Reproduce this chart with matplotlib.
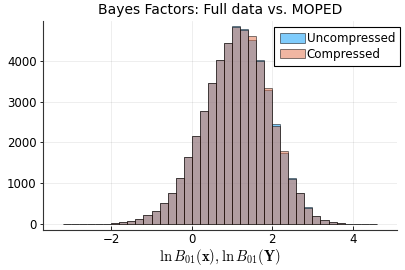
import numpy as np
import matplotlib
matplotlib.use("Agg")
import matplotlib.pyplot as plt

plt.rcParams["mathtext.fontset"] = "cm"

# histogram bins (left edges, width 0.2) and counts
bin_edges = [-3.2, -3.0, -2.8, -2.6, -2.4, -2.2, -2.0, -1.8, -1.6, -1.4, -1.2, -1.0,
             -0.8, -0.6, -0.4, -0.2, 0.0, 0.2, 0.4, 0.6, 0.8, 1.0, 1.2, 1.4, 1.6,
             1.8, 2.0, 2.2, 2.4, 2.6, 2.8, 3.0, 3.2, 3.4, 3.6, 3.8, 4.0, 4.2, 4.4, 4.6]
uncompressed = [1, 1, 2, 3, 5, 9, 22, 55, 80, 135, 225, 330, 515, 755, 1130, 1640,
                2160, 2760, 3445, 4030, 4430, 4840, 4785, 4505, 4015, 3295, 2440,
                1740, 1140, 755, 415, 200, 96, 48, 22, 10, 5, 2, 1]
compressed = [1, 1, 2, 3, 5, 9, 22, 50, 80, 135, 225, 320, 515, 755, 1120, 1640,
              2160, 2775, 3445, 4030, 4430, 4830, 4755, 4595, 3990, 3325, 2410,
              1780, 1115, 755, 393, 200, 96, 48, 22, 10, 5, 2, 1]
labels = ["Uncompressed", "Compressed"]
colors = ["#009AFA", "#E36F47"]
xticks = [-2, 0, 2, 4]
yticks = [0, 1000, 2000, 3000, 4000]

edges = np.array(bin_edges)
fig = plt.figure(figsize=(4.05, 2.7), dpi=100)
ax = fig.add_axes([0.106, 0.148, 0.874, 0.776])

for counts, lab, col in zip([uncompressed, compressed], labels, colors):
    ax.hist(edges[:-1], bins=edges, weights=counts, color=col, alpha=0.5,
            edgecolor="black", linewidth=0.7, label=lab)

ax.set_xlim(-3.7, 5.1)
ymax = max(max(uncompressed), max(compressed))
ax.set_ylim(-0.03 * ymax, 1.03 * ymax)
ax.set_xticks(xticks)
ax.set_xticklabels(["\u22122", "0", "2", "4"])
ax.set_yticks(yticks)
ax.tick_params(axis="x", direction="in", length=3, width=0.6, labelsize=8.5, pad=2)
ax.tick_params(axis="y", direction="out", length=2.5, width=0.6, labelsize=8.5, pad=2)
ax.grid(True, color="black", alpha=0.08, linewidth=0.6)
ax.set_axisbelow(True)
for s in ["top", "right"]:
    ax.spines[s].set_visible(False)
for s in ["left", "bottom"]:
    ax.spines[s].set_linewidth(0.8)
    ax.spines[s].set_color("#333333")

ax.set_title("Bayes Factors: Full data vs. MOPED", fontsize=10, pad=5)
ax.set_xlabel(r"$\ln B_{01}(\mathbf{x}), \ln B_{01}(\mathbf{Y})$", fontsize=10.5, labelpad=0.5)

leg = ax.legend(loc="upper right", bbox_to_anchor=(1.01, 0.97), fontsize=8.6,
                fancybox=False, framealpha=1, edgecolor="black", borderpad=0.45,
                labelspacing=0.2, handlelength=2.1, handleheight=0.85,
                handletextpad=0.15, borderaxespad=0)
leg.get_frame().set_linewidth(0.8)

fig.savefig("out.png", dpi=100)
